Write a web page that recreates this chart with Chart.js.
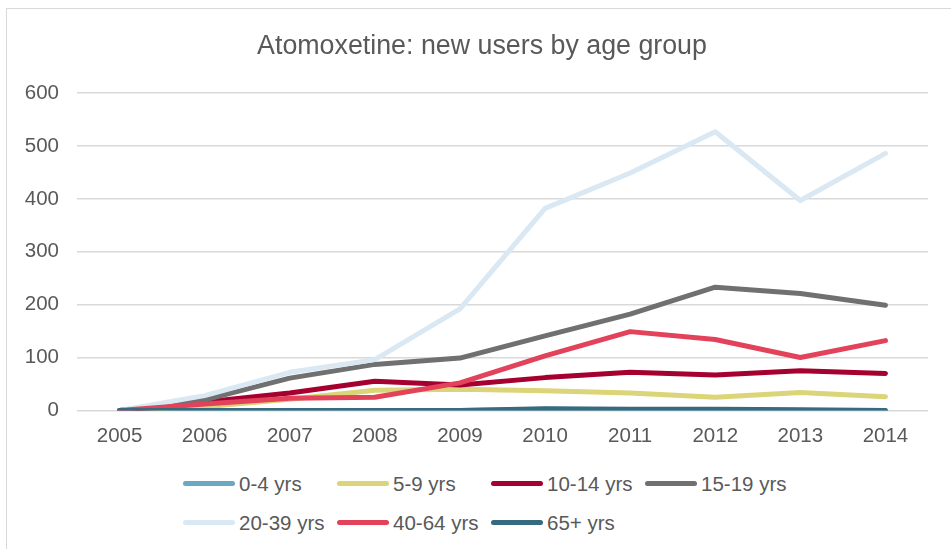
<!DOCTYPE html>
<html>
<head>
<meta charset="utf-8">
<title>Atomoxetine: new users by age group</title>
<script src="https://cdn.jsdelivr.net/npm/chart.js@4"></script>
<style>
    html, body {
        margin: 0;
        padding: 0;
        background: #ffffff;
        overflow: hidden;
    }
    .chart-frame {
        position: absolute;
        left: 6px;
        top: 8px;
        width: 952px;
        height: 560px;
        border: 1px solid #d9d9d9;
        box-sizing: border-box;
    }
    .chart-frame canvas {
        position: absolute;
        left: 0;
        top: 0;
    }
    .legend {
        position: absolute;
        left: 176px;
        top: 455px;
        display: grid;
        grid-template-columns: repeat(4, 154px);
        grid-auto-rows: 39px;
        font-family: "Liberation Sans", Arial, sans-serif;
        font-size: 20.5px;
        color: #595959;
    }
    .legend-item {
        display: flex;
        align-items: center;
        white-space: nowrap;
    }
    .legend-swatch {
        width: 52px;
        height: 5px;
        border-radius: 3px;
        margin-right: 4px;
        flex: none;
    }
</style>
</head>
<body>
<div class="chart-frame">
    <canvas id="newUsersChart" width="950" height="454"></canvas>
    <div class="legend" id="newUsersLegend"></div>
</div>
<script>
// Years on the x axis
const years = ['2005', '2006', '2007', '2008', '2009', '2010', '2011', '2012', '2013', '2014'];

// New users per year for each age group
const age0to4 = [0, 0, 0, 0, 0, 2, 1, 1, 0, 0];
const age5to9 = [0, 7, 21, 38, 40, 37, 33, 25, 34, 26];
const age10to14 = [0, 16, 33, 55, 48, 62, 72, 67, 75, 70];
const age15to19 = [0, 20, 61, 87, 99, 141, 182, 233, 221, 199];
const age20to39 = [0, 28, 72, 96, 192, 382, 449, 527, 397, 486];
const age40to64 = [0, 12, 23, 25, 52, 103, 149, 134, 100, 132];
const age65plus = [0, 0, 0, 0, 0, 3, 2, 2, 1, 0];

const groupLabels = ['0-4 yrs', '5-9 yrs', '10-14 yrs', '15-19 yrs', '20-39 yrs', '40-64 yrs', '65+ yrs'];
const groupColors = ['#6aa9c1', '#dcd478', '#a5002f', '#707070', '#d9e8f3', '#e3425b', '#366a7e'];

// Y axis range
const yMin = 0;
const yMax = 600;
const yStep = 100;

const FONT_FAMILY = '"Liberation Sans", Arial, sans-serif';
const TEXT_COLOR = '#595959';

/**
 * Builds the line datasets, one per age group.
 * Later groups get a lower order so they paint on top.
 */
function buildDatasets() {
    const series = [age0to4, age5to9, age10to14, age15to19, age20to39, age40to64, age65plus];
    return series.map((values, i) => ({
        label: groupLabels[i],
        data: values,
        borderColor: groupColors[i],
        backgroundColor: groupColors[i],
        borderWidth: 5,
        borderCapStyle: 'round',
        borderJoinStyle: 'round',
        pointRadius: 0,
        pointHoverRadius: 0,
        tension: 0,
        fill: false,
        order: series.length - i
    }));
}

/**
 * Renders the legend as a four column grid under the plot.
 * @param {Chart} chart - The rendered chart.
 */
function renderLegend(chart) {
    const container = document.getElementById('newUsersLegend');
    container.innerHTML = '';
    chart.data.datasets.forEach((ds) => {
        const item = document.createElement('div');
        item.className = 'legend-item';
        const swatch = document.createElement('span');
        swatch.className = 'legend-swatch';
        swatch.style.background = ds.borderColor;
        const text = document.createElement('span');
        text.textContent = ds.label;
        item.appendChild(swatch);
        item.appendChild(text);
        container.appendChild(item);
    });
}

/**
 * Renders the new users line chart.
 */
function renderNewUsersChart() {
    const ctx = document.getElementById('newUsersChart');
    if (!ctx) return;

    const chart = new Chart(ctx, {
        type: 'line',
        data: {
            labels: years,
            datasets: buildDatasets()
        },
        options: {
            responsive: false,
            animation: false,
            layout: {
                padding: 0
            },
            plugins: {
                legend: { display: false },
                tooltip: { enabled: false },
                title: {
                    display: true,
                    text: 'Atomoxetine: new users by age group',
                    color: TEXT_COLOR,
                    font: { family: FONT_FAMILY, size: 26.8, weight: 'normal' },
                    padding: { top: 22, bottom: 30 }
                }
            },
            scales: {
                x: {
                    offset: true,
                    grid: { display: false, drawTicks: false },
                    border: { display: false },
                    ticks: {
                        color: TEXT_COLOR,
                        font: { family: FONT_FAMILY, size: 20.5 },
                        padding: 14,
                        maxRotation: 0
                    }
                },
                y: {
                    min: yMin,
                    max: yMax,
                    afterFit: (scale) => { scale.width = 70; },
                    grid: {
                        color: '#d9d9d9',
                        lineWidth: 1.5,
                        drawTicks: false
                    },
                    border: { display: false },
                    ticks: {
                        stepSize: yStep,
                        color: TEXT_COLOR,
                        font: { family: FONT_FAMILY, size: 20.5 },
                        padding: 18
                    }
                },
                // empty right-hand axis, only reserves the margin right of the plot
                yRight: {
                    position: 'right',
                    afterFit: (scale) => { scale.width = 29; },
                    grid: { display: false, drawTicks: false },
                    border: { display: false },
                    ticks: { display: false }
                }
            }
        }
    });

    renderLegend(chart);
}

document.addEventListener('DOMContentLoaded', renderNewUsersChart);
</script>
</body>
</html>
